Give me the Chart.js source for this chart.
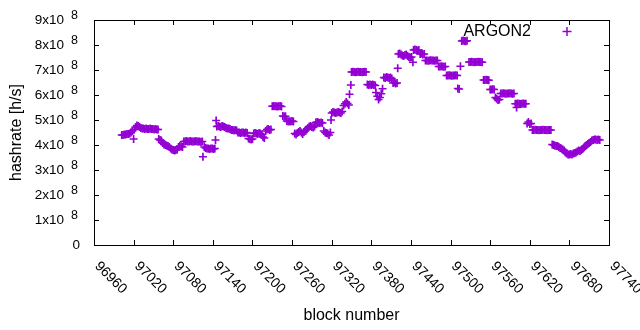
<!DOCTYPE html>
<html>
<head>
<meta charset="utf-8">
<script src="https://cdn.jsdelivr.net/npm/chart.js@4"></script>
<style>
html, body { margin: 0; padding: 0; background: #fff; }
canvas { display: block; }
</style>
</head>
<body>
<canvas id="grafico" width="640" height="330"></canvas>
<script>
const serieNome = 'ARGON2';
const xTicks = [96960, 97020, 97080, 97140, 97200, 97260, 97320, 97380, 97440, 97500, 97560, 97620, 97680, 97740];
const yTicks = [0, 1, 2, 3, 4, 5, 6, 7, 8, 9]; // x10^8

// block number de cada ponto
const blocks = [
    97002, 97004, 97006, 97008, 97010, 97012, 97014, 97016, 97018, 97020,
    97021, 97023, 97025, 97027, 97029,
    97031, 97033, 97035, 97037, 97039, 97041, 97043, 97045, 97047, 97049, 97051, 97053, 97055, 97057,
    97058, 97060, 97062,
    97064, 97066, 97068, 97070, 97072, 97074,
    97076, 97078, 97080, 97082, 97084, 97086,
    97088, 97090, 97092, 97094,
    97096, 97098, 97100, 97102, 97104, 97106, 97108, 97110, 97112, 97114, 97116, 97118, 97120, 97122, 97124,
    97125,
    97127, 97129, 97131, 97133, 97135, 97137, 97139, 97141, 97143,
    97144, 97145,
    97146, 97148, 97150, 97152, 97154, 97156, 97158, 97160, 97162, 97164, 97166,
    97168, 97170, 97172, 97174, 97176,
    97178, 97180, 97182, 97184, 97186, 97188, 97190, 97192,
    97194, 97196, 97198, 97200,
    97202, 97204, 97206, 97208, 97210, 97212, 97214,
    97216, 97218,
    97220, 97222, 97224, 97226, 97228,
    97230, 97232, 97234, 97236, 97238, 97240, 97242, 97244,
    97246, 97248, 97250,
    97252, 97254, 97256, 97258, 97260, 97262,
    97264, 97266, 97268, 97270, 97272, 97274, 97276, 97278, 97280,
    97282, 97284, 97286, 97288, 97290, 97292, 97294,
    97296, 97298, 97300, 97302, 97304, 97306,
    97308, 97310, 97312, 97314, 97316, 97318,
    97319,
    97320, 97322, 97324, 97326, 97328, 97330, 97332, 97334, 97336,
    97338, 97340, 97342, 97344, 97346,
    97347, 97349,
    97350, 97352, 97354, 97356, 97358, 97360, 97362, 97364, 97366, 97368, 97370, 97372,
    97374, 97376, 97378, 97380, 97382, 97384, 97386,
    97387, 97389, 97391, 97393, 97395, 97397,
    97399, 97401, 97403, 97405, 97407, 97409, 97411,
    97413, 97415, 97417, 97419,
    97420,
    97421, 97423, 97425, 97427, 97429, 97431, 97433, 97435, 97437, 97439, 97441,
    97443,
    97444, 97446, 97448, 97450, 97452,
    97454, 97456, 97458, 97460,
    97462, 97464, 97466, 97468, 97470, 97472, 97474, 97476, 97478, 97480,
    97482, 97484, 97486, 97488, 97490, 97492,
    97494, 97496, 97498, 97500, 97502, 97504, 97506, 97508, 97510,
    97511, 97513,
    97515,
    97517, 97519, 97521, 97523, 97525,
    97528, 97530, 97532, 97534, 97536, 97538, 97540, 97542, 97544, 97546, 97548,
    97550, 97552, 97554, 97556, 97558,
    97560, 97562, 97564, 97566,
    97568, 97570, 97572, 97574,
    97576, 97578, 97580, 97582, 97584, 97586, 97588, 97590, 97592, 97594, 97596,
    97598, 97600, 97600, 97602, 97604, 97606, 97608, 97610, 97612, 97614,
    97616, 97618, 97620, 97622,
    97624, 97626, 97628, 97630, 97632, 97634, 97636, 97638, 97640, 97642, 97644, 97646, 97648, 97650, 97652,
    97654, 97656, 97658, 97660, 97662, 97664, 97666, 97668, 97670, 97672,
    97674, 97676, 97678, 97680, 97682, 97684, 97686, 97688, 97690,
    97692, 97694, 97696, 97698, 97700,
    97702, 97704, 97706, 97708, 97710, 97712,
    97714, 97716, 97718, 97720, 97722, 97724, 97726
];

// hashrate em unidades de 10^8 h/s
const hashrate = [
    4.40, 4.40, 4.42, 4.42, 4.44, 4.44, 4.46, 4.50, 4.56, 4.24,
    4.62, 4.72, 4.78, 4.76, 4.72,
    4.68, 4.66, 4.66, 4.64, 4.66, 4.64, 4.64, 4.66, 4.64, 4.64, 4.62, 4.64, 4.62, 4.62,
    4.24, 4.20, 4.18,
    4.08, 4.02, 4.00, 3.98, 3.96, 3.92,
    3.86, 3.82, 3.80, 3.78, 3.80, 3.82,
    3.92, 3.96, 3.94, 3.92,
    4.14, 4.14, 4.16, 4.14, 4.14, 4.16, 4.14, 4.14, 4.14, 4.16, 4.14, 4.14, 4.14, 4.12, 4.14,
    3.53,
    3.92, 3.88, 3.86, 3.86, 3.84, 3.86, 3.86, 3.84, 3.86,
    4.20, 4.98,
    4.74, 4.76, 4.74, 4.72, 4.76, 4.74, 4.72, 4.68, 4.66, 4.66, 4.64,
    4.60, 4.60, 4.58, 4.60, 4.58,
    4.50, 4.50, 4.48, 4.50, 4.50, 4.48, 4.50, 4.48,
    4.26, 4.24, 4.22, 4.24,
    4.46, 4.48, 4.46, 4.44, 4.48, 4.46, 4.42,
    4.32, 4.28,
    4.56, 4.62, 4.64, 4.60, 4.62,
    5.55, 5.56, 5.55, 5.55, 5.54, 5.55, 5.56, 5.54,
    5.16, 5.14, 5.15,
    4.96, 4.94, 4.95, 4.94, 4.96, 4.94,
    4.46, 4.42, 4.48, 4.52, 4.56, 4.50, 4.44, 4.52, 4.58,
    4.62, 4.68, 4.74, 4.76, 4.72, 4.70, 4.74,
    4.90, 4.92, 4.90, 4.88, 4.90, 4.88,
    4.56, 4.50, 4.48, 4.46, 4.40, 4.50,
    5.00,
    5.28, 5.32, 5.30, 5.28, 5.30, 5.32, 5.30, 5.28, 5.34,
    5.58, 5.65, 5.72, 5.66, 5.60,
    6.03, 6.40,
    6.92, 6.93, 6.92, 6.91, 6.92, 6.93, 6.92, 6.92, 6.91, 6.92, 6.93, 6.92,
    6.42, 6.40, 6.42, 6.40, 6.42, 6.40, 6.38,
    6.10, 5.95, 5.82, 5.90, 6.05, 6.25,
    6.70, 6.68, 6.72, 6.70, 6.68, 6.70, 6.66,
    6.48, 6.50, 6.46, 6.48,
    7.07,
    7.64, 7.66, 7.62, 7.58, 7.56, 7.60, 7.62, 7.56, 7.52, 7.50, 7.52,
    7.31,
    7.80, 7.82, 7.80, 7.78, 7.80,
    7.64, 7.66, 7.62, 7.64,
    7.38, 7.38, 7.37, 7.38, 7.39, 7.38, 7.38, 7.37, 7.38, 7.38,
    7.14, 7.14, 7.15, 7.14, 7.13, 7.14,
    6.78, 6.78, 6.79, 6.78, 6.77, 6.78, 6.78, 6.79, 6.78,
    6.26, 6.24,
    7.15,
    8.16, 8.18, 8.16, 8.15, 8.17,
    7.32, 7.32, 7.33, 7.32, 7.31, 7.32, 7.32, 7.33, 7.32, 7.32, 7.31,
    6.60, 6.60, 6.61, 6.60, 6.59,
    6.22, 6.22, 6.23, 6.22,
    5.90, 5.85, 5.80, 5.82,
    6.06, 6.06, 6.07, 6.06, 6.05, 6.06, 6.06, 6.07, 6.06, 6.05, 6.06,
    5.65, 5.65, 5.50, 5.66, 5.65, 5.64, 5.65, 5.66, 5.65, 5.65,
    4.86, 4.92, 4.84, 4.86,
    4.60, 4.60, 4.61, 4.60, 4.60, 4.59, 4.60, 4.60, 4.61, 4.60, 4.60, 4.59, 4.60, 4.60, 4.60,
    4.02, 4.00, 3.98, 3.96, 3.96, 3.92, 3.88, 3.86, 3.82, 3.78,
    3.70, 3.66, 3.62, 3.62, 3.64, 3.62, 3.66, 3.68, 3.70,
    3.74, 3.78, 3.76, 3.80, 3.84,
    3.90, 3.96, 4.00, 4.04, 4.08, 4.12,
    4.18, 4.20, 4.22, 4.22, 4.20, 4.22, 4.20
];

const cor = '#9400d3';
const fonte = "'Liberation Sans', Arial, sans-serif";
const tamTick = 14;

const pontos = [];
for (let i = 0; i < Math.min(blocks.length, hashrate.length); i++) {
    pontos.push({ x: blocks[i], y: hashrate[i] * 1e8 });
}

// moldura estilo gnuplot: caixa, ticks para dentro, rotulos e legenda
const molduraPlugin = {
    id: 'moldura',
    afterDraw(chart) {
        const ctx = chart.ctx;
        const area = chart.chartArea;
        const xs = chart.scales.x;
        const ys = chart.scales.y;
        const tick = 5;

        ctx.save();
        ctx.strokeStyle = '#000';
        ctx.lineWidth = 1;
        ctx.strokeRect(Math.round(area.left) + 0.5, Math.round(area.top) + 0.5,
            Math.round(area.right - area.left), Math.round(area.bottom - area.top));

        ctx.beginPath();
        xTicks.forEach(v => {
            const px = Math.round(xs.getPixelForValue(v)) + 0.5;
            ctx.moveTo(px, area.bottom); ctx.lineTo(px, area.bottom - tick);
            ctx.moveTo(px, area.top); ctx.lineTo(px, area.top + tick);
        });
        yTicks.forEach(v => {
            const py = Math.round(ys.getPixelForValue(v * 1e8)) + 0.5;
            ctx.moveTo(area.left, py); ctx.lineTo(area.left + tick, py);
            ctx.moveTo(area.right, py); ctx.lineTo(area.right - tick, py);
        });
        ctx.stroke();

        ctx.fillStyle = '#000';
        ctx.font = tamTick + 'px ' + fonte;
        ctx.textBaseline = 'middle';
        xTicks.forEach(v => {
            const px = xs.getPixelForValue(v);
            ctx.save();
            ctx.translate(px + 3, 264);
            ctx.rotate(Math.PI / 4);
            ctx.textAlign = 'left';
            ctx.fillText(String(v), 0, 0);
            ctx.restore();
        });

        yTicks.forEach(v => {
            const py = ys.getPixelForValue(v * 1e8);
            ctx.font = '13.5px ' + fonte;
            ctx.textAlign = 'right';
            if (v === 0) {
                ctx.fillText('0', 80, py);
                return;
            }
            ctx.fillText(v + 'x10', 64, py);
            ctx.font = '12.5px ' + fonte;
            ctx.textAlign = 'left';
            ctx.fillText('8', 71, py - 4);
        });

        // legenda
        ctx.font = '16px ' + fonte;
        ctx.textAlign = 'right';
        ctx.fillText(serieNome, 531, 32);
        ctx.strokeStyle = cor;
        ctx.lineWidth = 1.5;
        ctx.beginPath();
        ctx.moveTo(562.5, 31.5); ctx.lineTo(571.5, 31.5);
        ctx.moveTo(567, 27); ctx.lineTo(567, 36);
        ctx.stroke();
        ctx.restore();
    }
};

const ctx = document.getElementById('grafico').getContext('2d');
new Chart(ctx, {
    type: 'scatter',
    data: {
        datasets: [{
            label: serieNome,
            data: pontos,
            pointStyle: 'cross',
            pointRadius: 4,
            pointHoverRadius: 4,
            pointBorderWidth: 1.7,
            borderColor: cor,
            backgroundColor: cor
        }]
    },
    options: {
        responsive: false,
        animation: false,
        devicePixelRatio: 1,
        events: [],
        layout: { padding: { top: 20, right: 31, left: 0, bottom: 0 } },
        plugins: {
            legend: { display: false },
            tooltip: { enabled: false }
        },
        scales: {
            x: {
                type: 'linear',
                min: 96960,
                max: 97740,
                ticks: { display: false, stepSize: 60 },
                grid: { display: false, drawTicks: false },
                border: { display: false },
                title: {
                    display: true,
                    text: 'block number',
                    color: '#000',
                    font: { family: fonte, size: 16 },
                    padding: { top: 0, bottom: 5 }
                },
                afterFit(scale) { scale.height = 85; }
            },
            y: {
                min: 0,
                max: 9e8,
                ticks: { display: false, stepSize: 1e8 },
                grid: { display: false, drawTicks: false },
                border: { display: false },
                title: {
                    display: true,
                    text: 'hashrate [h/s]',
                    color: '#000',
                    font: { family: fonte, size: 16 },
                    padding: { top: 7, bottom: 0 }
                },
                afterFit(scale) { scale.width = 94; }
            }
        }
    },
    plugins: [molduraPlugin]
});
</script>
</body>
</html>
